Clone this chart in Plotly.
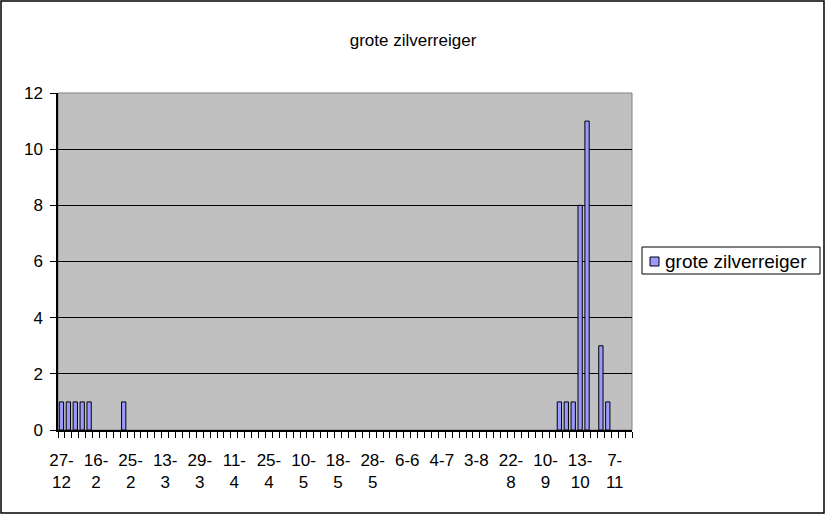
import plotly.graph_objects as go

series_name = "grote zilverreiger"

# counts per observation date (83 dates, only every 5th date is labelled)
counts = [
    1, 1, 1, 1, 1, 0, 0, 0, 0, 1,
    0, 0, 0, 0, 0, 0, 0, 0, 0, 0,
    0, 0, 0, 0, 0, 0, 0, 0, 0, 0,
    0, 0, 0, 0, 0, 0, 0, 0, 0, 0,
    0, 0, 0, 0, 0, 0, 0, 0, 0, 0,
    0, 0, 0, 0, 0, 0, 0, 0, 0, 0,
    0, 0, 0, 0, 0, 0, 0, 0, 0, 0,
    0, 0, 1, 1, 1, 8, 11, 0, 3, 1,
    0, 0, 0,
]

tick_labels = ["27-<br>12", "16-<br>2", "25-<br>2", "13-<br>3", "29-<br>3", "11-<br>4",
               "25-<br>4", "10-<br>5", "18-<br>5", "28-<br>5", "6-6", "4-7", "3-8",
               "22-<br>8", "10-<br>9", "13-<br>10", "7-<br>11"]
label_step = 5

y_ticks = [0, 2, 4, 6, 8, 10, 12]

idx = list(range(len(counts)))
tickvals = [i * label_step for i in range(len(tick_labels))]

FONT = "Liberation Sans, Arial, sans-serif"
BAR_COLOR = "#9999FF"

fig = go.Figure()
fig.add_trace(go.Bar(
    x=idx, y=counts, name=series_name, width=0.62,
    marker=dict(color=BAR_COLOR,
                line=dict(color="black", width=[1 if c > 0 else 0 for c in counts])),
    showlegend=False,
))

L, R, T, B = 58, 632, 93, 430
W, H = 826, 515
pw, ph = R - L, B - T

def px(x):
    return (x - L) / pw

def py(y):
    return (B - y) / ph

shapes = [
    dict(type="rect", xref="paper", yref="paper", x0=0, x1=1, y0=0, y1=1,
         line=dict(color="#808080", width=1), layer="below"),
    dict(type="rect", xref="paper", yref="paper",
         x0=px(1), x1=px(824), y0=py(513), y1=py(1),
         line=dict(color="black", width=1.5)),
    # legend box and swatch
    dict(type="rect", xref="paper", yref="paper",
         x0=px(642), x1=px(820), y0=py(274), y1=py(247),
         line=dict(color="black", width=1), fillcolor="white"),
    dict(type="rect", xref="paper", yref="paper",
         x0=px(650), x1=px(659), y0=py(266), y1=py(257),
         line=dict(color="black", width=1), fillcolor=BAR_COLOR),
]

annotations = [
    dict(text=series_name, xref="paper", yref="paper", x=px(663), y=py(261),
         xanchor="left", yanchor="middle", showarrow=False,
         font=dict(family=FONT, size=19, color="black")),
]

fig.update_layout(
    width=W, height=H,
    margin=dict(l=L, r=W - R, t=T, b=H - B, pad=0),
    paper_bgcolor="white", plot_bgcolor="#C0C0C0",
    font=dict(family=FONT, size=17, color="black"),
    title=dict(text=series_name, x=0.5, xref="container", xanchor="center",
               y=1 - 40 / H, yref="container", yanchor="middle",
               font=dict(family=FONT, size=17, color="black")),
    showlegend=False,
    xaxis=dict(range=[-0.5, len(counts) - 0.5], tickmode="array",
               tickvals=tickvals, ticktext=tick_labels,
               ticks="outside", ticklen=14, tickcolor="rgba(0,0,0,0)",
               showgrid=False, zeroline=False,
               showline=True, linecolor="black", linewidth=1.5,
               minor=dict(tick0=-0.5, dtick=1, ticks="outside", ticklen=6,
                          tickcolor="black", tickwidth=1, showgrid=False),
               tickfont=dict(family=FONT, size=17, color="black")),
    yaxis=dict(range=[0, 12], tickmode="array", tickvals=y_ticks,
               ticks="outside", ticklen=6, tickcolor="black",
               ticklabelstandoff=4,
               showgrid=True, gridcolor="black", gridwidth=1,
               zeroline=False, showline=True, linecolor="black", linewidth=1.5,
               tickfont=dict(family=FONT, size=17, color="black")),
    shapes=shapes,
    annotations=annotations,
)

fig.write_html("out.html", config={"displayModeBar": False},
               post_script="document.body.style.margin='0px';")
